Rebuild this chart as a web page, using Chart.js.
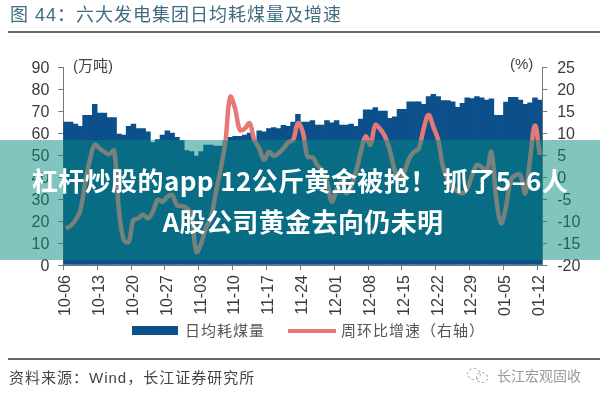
<!DOCTYPE html>
<html>
<head>
<meta charset="utf-8">
<script src="https://cdn.jsdelivr.net/npm/chart.js@4"></script>
<style>
    body { margin: 0; background: #fff; overflow: hidden; }
    #wrap { position: relative; width: 600px; height: 400px; font-family: "Liberation Sans", "Noto Sans CJK SC", sans-serif; }
    #wrap div, #wrap span { position: absolute; white-space: nowrap; }
    canvas { position: absolute; left: 0; top: 0; }
    .rule { left: 8px; right: 0; height: 2px; background: #666; }
    #title { left: 10px; top: 3px; font-size: 18px; line-height: 24px; letter-spacing: 1px; color: #3f6c80; }
    .unit { font-size: 15px; line-height: 18px; color: #444; }
    .legendText { font-size: 15px; line-height: 18px; letter-spacing: 1px; color: #555; }
    #source { left: 9px; top: 369px; font-size: 15px; line-height: 18px; letter-spacing: 1px; color: #444; }
    #mark { left: 497px; top: 367px; font-size: 14px; line-height: 18px; color: #999; }
    .bubble { border: 1px dashed #aaa; border-radius: 50%; }
    #banner { left: 0; top: 140px; width: 600px; height: 120px; background: rgba(5, 140, 125, 0.5); }
    .headline { left: 3px; width: 600px; text-align: center; color: #fff; font-family: "Noto Sans CJK SC", sans-serif; font-weight: 700; font-size: 26px; line-height: 40px; letter-spacing: 0.4px; }
</style>
</head>
<body>
<div id="wrap">
    <canvas id="coalChart" width="600" height="400"></canvas>
    <div id="title">图 44：六大发电集团日均耗煤量及增速</div>
    <div class="rule" style="top:31px"></div>
    <div class="unit" style="left:73px;top:57px">(万吨)</div>
    <div class="unit" style="left:510px;top:55px">(%)</div>
    <div id="legendBar" style="left:132px;top:326px;width:46px;height:9px"></div>
    <div class="legendText" id="legendBarText" style="left:185px;top:322px"></div>
    <div id="legendLine" style="left:288px;top:329px;width:48px;height:4px"></div>
    <div class="legendText" id="legendLineText" style="left:341px;top:322px"></div>
    <div class="rule" style="top:358px"></div>
    <div id="source">资料来源：Wind，长江证券研究所</div>
    <div class="bubble" style="left:467px;top:368px;width:12px;height:10px"></div>
    <div class="bubble" style="left:476px;top:372px;width:10px;height:9px"></div>
    <div id="mark">长江宏观固收</div>
    <div id="banner"></div>
    <div class="headline" style="left:0;top:160px">杠杆炒股的app 12公斤黄金被抢！ 抓了5–6人</div>
    <div class="headline" style="top:201px">A股公司黄金去向仍未明</div>
</div>
<script>
// Werte
const coalLabel = '日均耗煤量';
const growthLabel = '周环比增速（右轴）';

const coalValues = [
    65, 65, 64, 63, 68, 68, 73, 69, 69, 67, 67, 59.5, 59, 63, 64, 62, 62, 60.5, 55.6, 57,
    59, 61, 60, 58, 56.5, 52, 51.5, 49.5, 51.5, 54.5, 54.5, 54, 54, 56, 58, 58.5, 58.5, 59, 60, 56,
    61, 60.5, 62, 62.5, 62, 63.5, 63, 65, 68.5, 65, 65, 65.7, 63.6, 63.6, 65.6, 64.6, 65.6, 63.6, 63.6, 64,
    63, 66.3, 70.5, 70.5, 71.5, 70, 70, 66.7, 67.4, 70.8, 70.8, 74.2, 74.2, 74.2, 73, 76.5, 77.6, 76.5, 74.7, 74.7,
    74.2, 71.7, 73.5, 76, 75.7, 76.5, 76, 75, 75.5, 68, 68, 74, 76.2, 76.2, 75, 73, 73.7, 76, 75
];

const growthValues = [
    -11.7, -11.1, -9.8, -7.7, -1.4, 3.9, 7.3, 6.5, 5.7, 5.2, 6, -7.5, -14.3, -14.7, -9.8, -9.4, -8.6, -9.4, -7.9, -5.2,
    -5.6, -4.5, -4.1, -6.4, -6.6, -7.1, -8.6, -17, -15.1, -11.5, -9.4, -3.7, 1.6, 8, 18.2, 15.6, 10.7, 11, 12.2, 8.4,
    6.5, 3.9, 5.7, 4.8, 5.4, 6.5, 7.9, 8.4, 12.2, 10.3, 4.6, 4.5, 2.7, 1.6, -1.1, -5.6, -3, -1.1, -3.7, -2.2,
    1.2, 5.7, 9.2, 7.3, 11.8, 10.9, 9.2, 6.1, 1.6, -0.7, 1.2, 4.2, 5.7, 6.5, 11, 14.1, 11.4, 8.4, 2.3, -0.7,
    -2.2, -3.3, -3.7, -2.6, 0.4, 2.7, 2.3, 1.4, 5.7, -4.9, -10.5, -6.8, -0.7, 0.4, 0.4, -3.7, 4.2, 11.7, 5
];

const weekLabels = ['10-06', '10-13', '10-20', '10-27', '11-03', '11-10', '11-17', '11-24', '12-01', '12-08', '12-15', '12-22', '12-29', '01-05', '01-12'];

const coalColor = '#0b4f8b';
const growthColor = '#e67878';
const axisColor = '#777';
const tickTextColor = '#3a3a3a';

// nur jeder siebte Tag bekommt eine Beschriftung
const categories = coalValues.map((v, i) => (i % 7 === 0 ? weekLabels[i / 7] : ''));

document.getElementById('legendBar').style.background = coalColor;
document.getElementById('legendLine').style.background = growthColor;
document.getElementById('legendBarText').textContent = coalLabel;
document.getElementById('legendLineText').textContent = growthLabel;

const ctx = document.getElementById('coalChart').getContext('2d');
new Chart(ctx, {
    data: {
        labels: categories,
        datasets: [
            {
                type: 'line',
                label: growthLabel,
                data: growthValues,
                yAxisID: 'y1',
                borderColor: growthColor,
                borderWidth: 4.5,
                pointRadius: 0,
                tension: 0.4,
                order: 0
            },
            {
                type: 'bar',
                label: coalLabel,
                data: coalValues,
                yAxisID: 'y',
                backgroundColor: coalColor,
                barPercentage: 1,
                categoryPercentage: 1,
                order: 1
            }
        ]
    },
    options: {
        responsive: false,
        animation: false,
        layout: { padding: { top: 67 } },
        plugins: { legend: { display: false }, tooltip: { enabled: false } },
        scales: {
            x: {
                offset: true,
                afterFit: scale => { scale.height = 135; },
                grid: {
                    offset: true,
                    drawOnChartArea: false,
                    tickLength: 5,
                    tickColor: c => (c.index % 7 === 0 ? axisColor : 'transparent')
                },
                border: { color: axisColor },
                ticks: {
                    autoSkip: false,
                    minRotation: 90,
                    maxRotation: 90,
                    padding: 5,
                    color: tickTextColor,
                    font: { family: 'Liberation Sans', size: 16 }
                }
            },
            y: {
                position: 'left',
                min: 0,
                max: 90,
                afterFit: scale => { scale.width = 63.3; },
                grid: { drawOnChartArea: false, tickLength: 5, color: axisColor },
                border: { color: axisColor },
                ticks: { autoSkip: false, stepSize: 10, padding: 9, labelOffset: 1.5, color: tickTextColor, font: { family: 'Liberation Sans', size: 16 } }
            },
            y1: {
                position: 'right',
                min: -20,
                max: 25,
                afterFit: scale => { scale.width = 57.8; },
                grid: { drawOnChartArea: false, tickLength: 5, color: axisColor },
                border: { color: axisColor },
                ticks: { autoSkip: false, stepSize: 5, padding: 10, labelOffset: 1.5, color: tickTextColor, font: { family: 'Liberation Sans', size: 16 } }
            }
        }
    }
});
</script>
</body>
</html>
